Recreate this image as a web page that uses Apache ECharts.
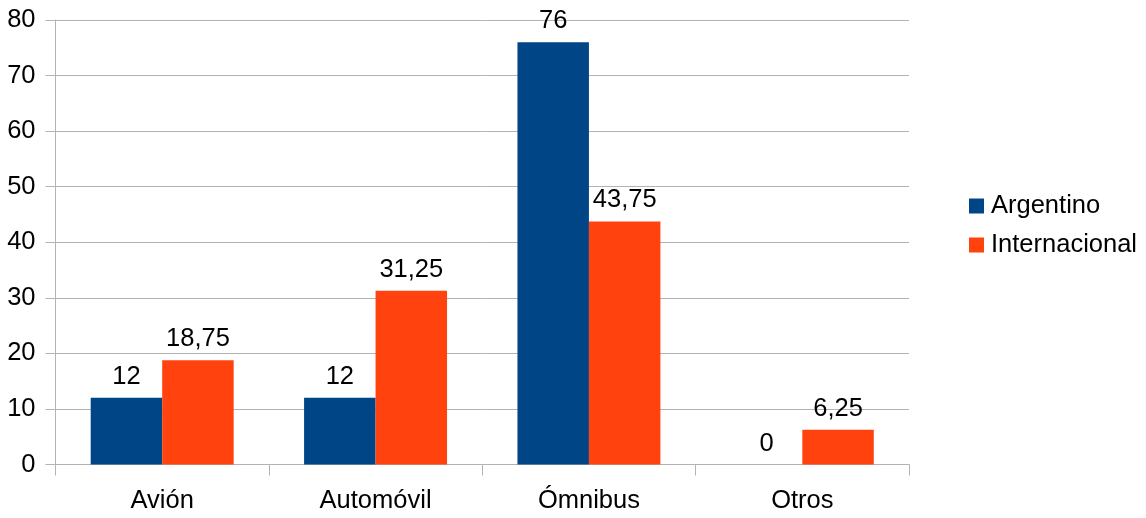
<!DOCTYPE html>
<html>
<head>
<meta charset="utf-8">
<script src="https://cdn.jsdelivr.net/npm/echarts@6/dist/echarts.min.js"></script>
<style>html,body{margin:0;padding:0;background:#fff}#c{width:1146px;height:518px}</style>
</head>
<body>
<div id="c"></div>
<script>
const categories = ['Avión', 'Automóvil', 'Ómnibus', 'Otros'];
const argentino = [12, 12, 76, 0];
const internacional = [18.75, 31.25, 43.75, 6.25];
const yTicks = { min: 0, max: 80, interval: 10 };

const font = 'Liberation Sans';
const fs = 25.5;
const fmt = v => String(v).replace('.', ',');
const chart = echarts.init(document.getElementById('c'), null, { renderer: 'canvas' });
const labelCfg = {
  show: true, position: 'top', distance: 8, color: '#000',
  fontFamily: font, fontSize: fs,
  formatter: p => fmt(p.value)
};
chart.setOption({
  animation: false,
  grid: { left: 55.5, right: 237, top: 20, bottom: 53.5, containLabel: false },
  legend: {
    orient: 'vertical', left: 964, top: 188,
    itemWidth: 15, itemHeight: 15, itemGap: 13,
    icon: 'rect',
    textStyle: { fontFamily: font, fontSize: fs, color: '#000', padding: [0, 0, 0, 2] },
    data: ['Argentino', 'Internacional']
  },
  xAxis: {
    type: 'category', data: categories,
    axisLine: { lineStyle: { color: '#b3b3b3', width: 1 } },
    axisTick: { show: true, length: 11, lineStyle: { color: '#b3b3b3' } },
    axisLabel: { color: '#000', fontFamily: font, fontSize: fs, margin: 23 },
    splitLine: { show: false }
  },
  yAxis: {
    type: 'value', min: yTicks.min, max: yTicks.max, interval: yTicks.interval,
    axisLine: { show: true, lineStyle: { color: '#b3b3b3', width: 1 } },
    axisTick: { show: true, length: 10, lineStyle: { color: '#b3b3b3' } },
    axisLabel: { color: '#000', fontFamily: font, fontSize: fs, margin: 20 },
    splitLine: { show: true, lineStyle: { color: '#b3b3b3', width: 1 } }
  },
  series: [
    { name: 'Argentino', type: 'bar', data: argentino, barGap: '0%', barCategoryGap: '33%',
      itemStyle: { color: '#004586' }, label: labelCfg },
    { name: 'Internacional', type: 'bar', data: internacional, barGap: '0%', barCategoryGap: '33%',
      itemStyle: { color: '#ff420e' }, label: labelCfg }
  ]
});
</script>
</body>
</html>
